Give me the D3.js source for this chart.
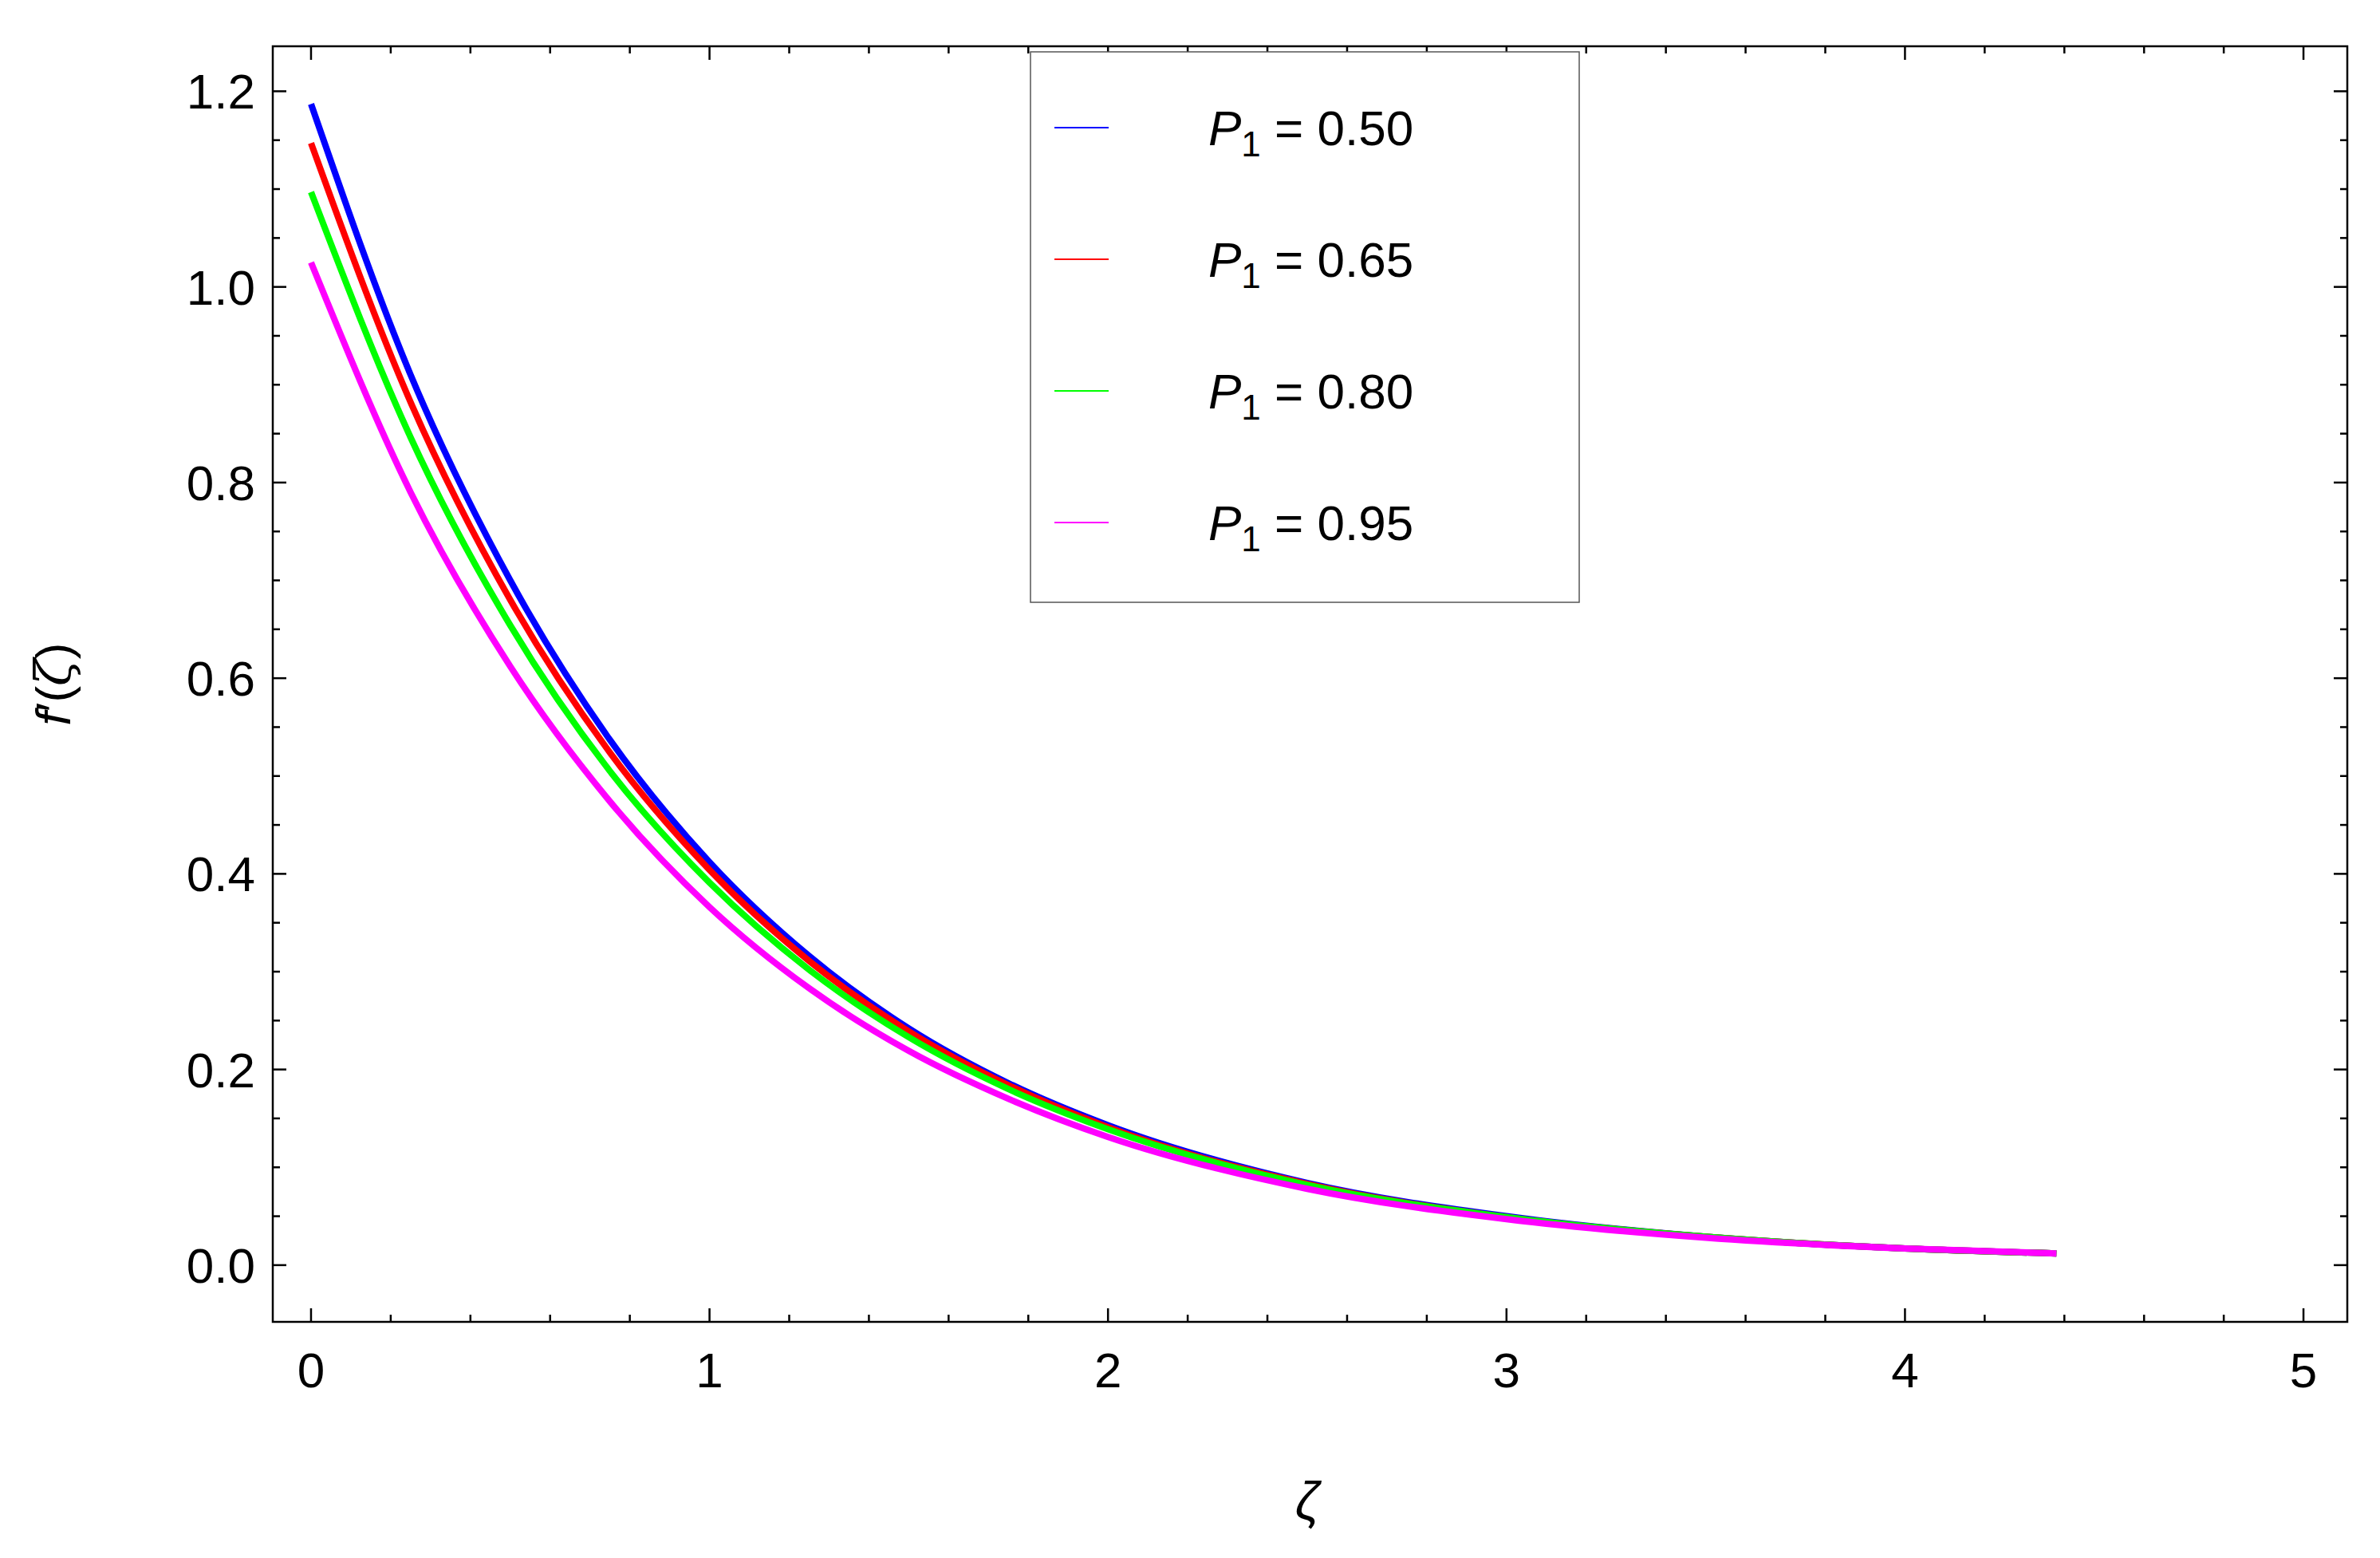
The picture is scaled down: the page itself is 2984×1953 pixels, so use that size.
<!DOCTYPE html>
<html><head><meta charset="utf-8">
<script src="https://cdn.jsdelivr.net/npm/d3@7"></script>
<style>body{margin:0;background:#fff}text{font-family:"Liberation Sans",Arial,sans-serif}</style>
</head><body>
<svg id="chart" width="2984" height="1953"></svg>
<script>
// data
const zeta = [0, 0.25, 0.5, 0.75, 1, 1.25, 1.5, 1.75, 2, 2.5, 3, 3.5, 4, 4.38];
const p050 = [1.187, 0.910, 0.700, 0.537, 0.412, 0.316, 0.242, 0.186, 0.143, 0.084, 0.050, 0.029, 0.017, 0.012];
const p065 = [1.147, 0.882, 0.680, 0.524, 0.404, 0.311, 0.239, 0.184, 0.141, 0.083, 0.049, 0.029, 0.017, 0.012];
const p080 = [1.097, 0.846, 0.654, 0.505, 0.391, 0.302, 0.233, 0.180, 0.139, 0.082, 0.049, 0.029, 0.017, 0.012];
const p095 = [1.025, 0.790, 0.612, 0.474, 0.366, 0.283, 0.219, 0.170, 0.131, 0.078, 0.047, 0.028, 0.017, 0.012];
const labels = ["0.50", "0.65", "0.80", "0.95"];
const colors = ["#0000ff", "#ff0000", "#00ff00", "#ff00ff"];
const xTicks = [0, 1, 2, 3, 4, 5];
const yTicks = [0, 0.2, 0.4, 0.6, 0.8, 1.0, 1.2];

const pL = 342, pR = 2943, pT = 58, pB = 1657;
const svg = d3.select("#chart");
const x = d3.scaleLinear().domain([-0.096, 5.11]).range([pL, pR]);
const y = d3.scaleLinear().domain([-0.058, 1.246]).range([pB, pT]);

// frame
svg.append("rect").attr("x", pL).attr("y", pT).attr("width", pR - pL).attr("height", pB - pT)
    .attr("fill", "none").attr("stroke", "#000").attr("stroke-width", 2.5);

const xMinor = d3.range(0, 5.11, 0.2), yMinor = d3.range(0, 1.246, 0.05);
const tk = svg.append("g").attr("stroke", "#000").attr("stroke-width", 2.5);
xMinor.forEach(v => {
    const major = Math.abs(v - Math.round(v)) < 1e-6, L = major ? 17 : 9;
    tk.append("line").attr("x1", x(v)).attr("x2", x(v)).attr("y1", pB).attr("y2", pB - L);
    tk.append("line").attr("x1", x(v)).attr("x2", x(v)).attr("y1", pT).attr("y2", pT + L);
});
yMinor.forEach(v => {
    const major = Math.abs(v * 5 - Math.round(v * 5)) < 1e-6, L = major ? 17 : 9;
    tk.append("line").attr("y1", y(v)).attr("y2", y(v)).attr("x1", pL).attr("x2", pL + L);
    tk.append("line").attr("y1", y(v)).attr("y2", y(v)).attr("x1", pR).attr("x2", pR - L);
});

svg.append("g").selectAll("text").data(xTicks).join("text")
    .attr("x", d => x(d)).attr("y", pB + 82).attr("text-anchor", "middle")
    .attr("font-size", 62).text(d => d);
svg.append("g").selectAll("text").data(yTicks).join("text")
    .attr("x", pL - 22).attr("y", d => y(d) + 22).attr("text-anchor", "end")
    .attr("font-size", 62).text(d => d.toFixed(1));

svg.append("text").attr("x", x(2.5)).attr("y", 1905).attr("text-anchor", "middle")
    .attr("font-size", 66).attr("font-style", "italic").attr("font-family", "DejaVu Serif").text("ζ");
svg.append("text").attr("transform", `translate(88,${(pT + pB) / 2}) rotate(-90)`)
    .attr("text-anchor", "middle").attr("font-size", 62)
    .html('<tspan font-style="italic">f</tspan>′(<tspan font-style="italic" font-family="DejaVu Serif">ζ</tspan>)');

// curves
const series = [p050, p065, p080, p095];
const line = d3.line().x((d, i) => x(zeta[i])).y(d => y(d)).curve(d3.curveMonotoneX);
series.forEach((s, k) => {
    svg.append("path").datum(s).attr("d", line).attr("fill", "none")
        .attr("stroke", colors[k]).attr("stroke-width", 8);
});

// legend
const lg = svg.append("g");
lg.append("rect").attr("x", 1292).attr("y", 65).attr("width", 688).attr("height", 690)
    .attr("fill", "#fff").attr("stroke", "#555").attr("stroke-width", 1.5);
labels.forEach((l, k) => {
    const yy = 160 + k * 165;
    lg.append("line").attr("x1", 1322).attr("x2", 1390).attr("y1", yy).attr("y2", yy)
        .attr("stroke", colors[k]).attr("stroke-width", 2);
    lg.append("text").attr("x", 1515).attr("y", yy + 22).attr("font-size", 62)
        .html(`<tspan font-style="italic">P</tspan><tspan font-size="44" dy="14">1</tspan><tspan dy="-14"> = ${l}</tspan>`);
});
</script>
</body></html>
